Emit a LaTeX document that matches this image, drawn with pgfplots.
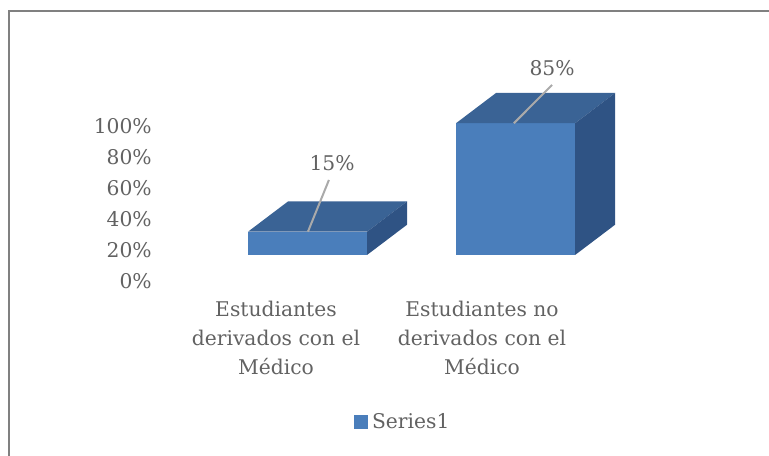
\documentclass[border=0pt]{standalone}
\usepackage{fontspec}
\setmainfont{DejaVu Serif}
\usepackage{pgfplots}
\pgfplotsset{compat=1.18}
\definecolor{frontc}{RGB}{74,126,187}
\definecolor{topc}{RGB}{58,99,149}
\definecolor{sidec}{RGB}{47,83,132}
\definecolor{txt}{RGB}{98,98,98}
\definecolor{framec}{RGB}{128,128,128}
\definecolor{leader}{RGB}{170,170,170}
\newcommand{\chartfont}{\fontsize{15.2}{21.75}\selectfont}
\begin{document}
\begin{tikzpicture}
\useasboundingbox (0,0) rectangle (576.75pt,342pt);
\draw[framec, line width=1.5pt] (7.1pt,-2pt) -- (7.1pt,334.1pt) -- (580pt,334.1pt);
% values
\def\base{16.8}\def\dx{0.194}\def\dy{19.5}
\pgfmathsetmacro\vA{15}\pgfmathsetmacro\vB{85}
\pgfmathsetmacro\tA{\base+\vA}\pgfmathsetmacro\tB{\base+\vB}
\pgfmathsetmacro\bA{\tA+\dy}\pgfmathsetmacro\bB{\tB+\dy}
\pgfmathsetmacro\fb{\base+\dy}
\begin{axis}[
  at={(127.5pt,131.25pt)}, anchor=south west,
  scale only axis, width=360pt, height=165.75pt,
  xmin=-0.5146, xmax=1.8155, ymin=0, ymax=142.58,
  clip=false, enlargelimits=false,
  axis line style={draw=none}, major tick length=0pt,
  ytick={0,20,40,60,80,100},
  yticklabels={0\%,20\%,40\%,60\%,80\%,100\%},
  xtick={0,1},
  xticklabels={{Estudiantes\\derivados con el\\Médico},{Estudiantes no\\derivados con el\\Médico}},
  tick label style={font=\chartfont, text=txt},
  /pgf/number format/assume math mode=true,
  yticklabel style={anchor=east, inner sep=0pt, xshift=-13.5pt},
  xticklabel style={anchor=north, align=center, inner sep=0pt, yshift=-15pt},
  legend style={at={(0.485,-0.638)}, anchor=center, draw=none, fill=none,
    font=\chartfont, text=txt, inner sep=0pt},
]
% bar 1 (15%)
\addplot[fill=frontc, draw=none, forget plot] coordinates {(-0.136,\base) (0.442,\base) (0.442,\tA) (-0.136,\tA)} -- cycle;
\addplot[fill=topc, draw=none, forget plot] coordinates {(-0.136,\tA) (0.442,\tA) (0.636,\bA) (0.058,\bA)} -- cycle;
\addplot[fill=sidec, draw=none, forget plot] coordinates {(0.442,\base) (0.636,\fb) (0.636,\bA) (0.442,\tA)} -- cycle;
% bar 2 (85%)
\addplot[fill=frontc, draw=none, forget plot] coordinates {(0.874,\base) (1.452,\base) (1.452,\tB) (0.874,\tB)} -- cycle;
\addplot[fill=topc, draw=none, forget plot] coordinates {(0.874,\tB) (1.452,\tB) (1.646,\bB) (1.068,\bB)} -- cycle;
\addplot[fill=sidec, draw=none, forget plot] coordinates {(1.452,\base) (1.646,\fb) (1.646,\bB) (1.452,\tB)} -- cycle;
% leader lines
\addplot[color=leader, line width=1.5pt, forget plot] coordinates {(0.257,65.2) (0.155,\tA)};
\addplot[color=leader, line width=1.5pt, forget plot] coordinates {(1.340,126.5) (1.155,\tB)};
\node[font=\chartfont, text=txt] at (axis cs:0.272,76.1) {15\%};
\node[font=\chartfont, text=txt] at (axis cs:1.340,137.4) {85\%};
\addlegendimage{legend image code/.code={\fill[frontc] (0pt,-4.875pt) rectangle (9.75pt,4.875pt); \path (11.5pt,0pt);}}
\addlegendentry{Series1}
\end{axis}
\end{tikzpicture}
\end{document}
